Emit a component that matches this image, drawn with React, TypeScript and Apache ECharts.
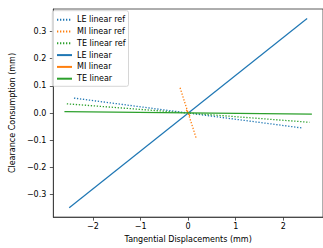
import React, { useEffect, useRef } from "react";
import * as echarts from "echarts";

const seriesNames = ["LE linear ref", "MI linear ref", "TE linear ref", "LE linear", "MI linear", "TE linear"];
const leRefX = [-2.4, 2.4];
const leRefY = [0.055, -0.055];
const miRefX = [-0.17, 0.17];
const miRefY = [0.093, -0.093];
const teRefX = [-2.55, 2.55];
const teRefY = [0.034, -0.034];
const leX = [-2.5, 2.5];
const leY = [-0.348, 0.348];
const miX = [-0.04, 0.04];
const miY = [0.012, -0.012];
const teX = [-2.6, 2.6];
const teY = [0.005, -0.004];

const xTicks = [-2, -1, 0, 1, 2];
const yTicks = [-0.3, -0.2, -0.1, 0.0, 0.1, 0.2, 0.3];

const BLUE = "#1f77b4";
const ORANGE = "#ff7f0e";
const GREEN = "#2ca02c";
const FONT = "DejaVu Sans";

const fmt = (v: number, d: number) => {
  const s = Math.abs(v).toFixed(d);
  return (v < -1e-9 ? "\u2212" : "") + s;
};

const pts = (xs: number[], ys: number[]) => xs.map((x, i) => [x, ys[i]]);

export default function App() {
  const ref = useRef<HTMLDivElement>(null);
  useEffect(() => {
    if (!ref.current) return;
    const chart = echarts.init(ref.current, undefined, { renderer: "svg" });
    const mk = (name: string, xs: number[], ys: number[], color: string, dotted: boolean) => ({
      name,
      type: "line",
      data: pts(xs, ys),
      symbol: "none",
      silent: true,
      lineStyle: { color, width: dotted ? 1.3 : 1.2, type: dotted ? [1.3, 1.7] : "solid" },
      itemStyle: { color },
    });
    chart.setOption({
      animation: false,
      grid: {
        left: 49,
        right: -9.4,
        top: 9,
        bottom: 29,
        show: true,
        borderColor: "#333",
        borderWidth: 0.8,
        backgroundColor: "transparent",
      },
      legend: {
        orient: "vertical",
        left: 52.3,
        top: 10.7,
        padding: [5, 3, 3.6, 3.7],
        itemWidth: 15,
        itemHeight: 8,
        itemGap: 3.8,
        borderColor: "#cccccc",
        borderWidth: 0.8,
        borderRadius: 2,
        backgroundColor: "rgba(255,255,255,0.8)",
        data: seriesNames,
        itemStyle: { opacity: 0, borderWidth: 0 },
        textStyle: { fontFamily: FONT, fontSize: 8, color: "#000", lineHeight: 8 },
      },
      xAxis: {
        type: "value",
        min: -2.834,
        max: 2.834,
        name: "Tangential Displacements (mm)",
        nameLocation: "middle",
        nameGap: 16,
        nameTextStyle: { fontFamily: FONT, fontSize: 8, color: "#000" },
        axisLine: { show: true, onZero: false, lineStyle: { color: "#333", width: 0.8 } },
        axisTick: { show: true, length: 3.5, customValues: xTicks, lineStyle: { color: "#333", width: 0.8 } },
        axisLabel: {
          customValues: xTicks,
          margin: 5,
          fontFamily: FONT,
          fontSize: 8,
          color: "#000",
          formatter: (v: number) => fmt(v, 0),
        },
        splitLine: { show: false },
      },
      yAxis: {
        type: "value",
        min: -0.3827,
        max: 0.3827,
        name: "Clearance Consumption (mm)",
        nameLocation: "middle",
        nameGap: 27,
        nameTextStyle: { fontFamily: FONT, fontSize: 8, color: "#000" },
        axisLine: { show: true, onZero: false, lineStyle: { color: "#333", width: 0.8 } },
        axisTick: { show: true, length: 3.5, customValues: yTicks, lineStyle: { color: "#333", width: 0.8 } },
        axisLabel: {
          customValues: yTicks,
          margin: 7,
          fontFamily: FONT,
          fontSize: 8,
          color: "#000",
          formatter: (v: number) => fmt(v, 1),
        },
        splitLine: { show: false },
      },
      series: [
        mk(seriesNames[0], leRefX, leRefY, BLUE, true),
        mk(seriesNames[1], miRefX, miRefY, ORANGE, true),
        mk(seriesNames[2], teRefX, teRefY, GREEN, true),
        mk(seriesNames[3], leX, leY, BLUE, false),
        mk(seriesNames[4], miX, miY, ORANGE, false),
        mk(seriesNames[5], teX, teY, GREEN, false),
      ],
    });
    return () => chart.dispose();
  }, []);
  return (
    <div
      ref={ref}
      style={{ position: "fixed", left: 0, top: 0, width: 323, height: 248, background: "#fff" }}
    />
  );
}
